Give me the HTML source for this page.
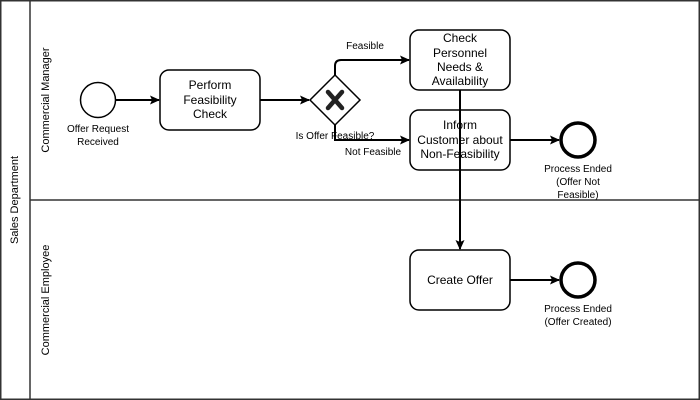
<!DOCTYPE html>
<html><head><meta charset="utf-8"><style>
html,body{margin:0;padding:0;background:#fff;}
svg{display:block;font-family:"Liberation Sans",Arial,sans-serif;}
</style></head><body>
<svg width="700" height="400" viewBox="0 0 700 400" xmlns="http://www.w3.org/2000/svg">
<defs>
<marker id="a" markerWidth="10" markerHeight="10" refX="9" refY="5" orient="auto" markerUnits="userSpaceOnUse">
<path d="M0,0.5 L10,5 L0,9.5 L2,5 Z" fill="#000"/>
</marker>
</defs>
<g fill="none" stroke="#333" stroke-width="1.5">
<rect x="0.75" y="0.75" width="698.5" height="398.5"/>
<line x1="30" y1="0" x2="30" y2="400"/>
<line x1="30" y1="200" x2="700" y2="200"/>
</g>
<g font-size="11" fill="#000" text-anchor="middle">
<text transform="translate(18,200) rotate(-90)">Sales Department</text>
<text transform="translate(49,100) rotate(-90)">Commercial Manager</text>
<text transform="translate(49,300) rotate(-90)">Commercial Employee</text>
</g>
<g fill="none" stroke="#000" stroke-width="2">
<line x1="116" y1="100" x2="159" y2="100" marker-end="url(#a)"/>
<line x1="260" y1="100" x2="309" y2="100" marker-end="url(#a)"/>
<path d="M335,75 V66 Q335,60 341,60 H409" marker-end="url(#a)"/>
<path d="M335,125 V140 H409" marker-end="url(#a)"/>
<line x1="510" y1="140" x2="559" y2="140" marker-end="url(#a)"/>
<line x1="460" y1="90" x2="460" y2="249" marker-end="url(#a)"/>
<line x1="510" y1="280" x2="559" y2="280" marker-end="url(#a)"/>
</g>
<g fill="#fff" stroke="#000" stroke-width="1.5">
<circle cx="98" cy="100" r="17.5"/>
<rect x="160" y="70" width="100" height="60" rx="9"/>
<rect x="410" y="30" width="100" height="60" rx="9"/>
<rect x="410" y="110" width="100" height="60" rx="9" fill="none"/>
<rect x="410" y="250" width="100" height="60" rx="9"/>
<path d="M335,75 L360,100 L335,125 L310,100 Z"/>
</g>
<line x1="460" y1="110" x2="460" y2="170" stroke="#000" stroke-width="2"/>
<g fill="#fff" stroke="#000" stroke-width="3.5">
<circle cx="578" cy="140" r="17"/>
<circle cx="578" cy="280" r="17"/>
</g>
<g stroke="#222" stroke-width="4.5" stroke-linecap="round">
<line x1="328" y1="92" x2="342" y2="108"/>
<line x1="342" y1="92" x2="328" y2="108"/>
</g>
<g font-size="12" fill="#000" text-anchor="middle">
<text x="210" y="89">Perform</text>
<text x="210" y="104">Feasibility</text>
<text x="210" y="118">Check</text>
<text x="460" y="42">Check</text>
<text x="460" y="57">Personnel</text>
<text x="460" y="71">Needs &amp;</text>
<text x="460" y="85">Availability</text>
<text x="460" y="129">Inform</text>
<text x="460" y="144">Customer about</text>
<text x="460" y="158">Non-Feasibility</text>
<text x="460" y="284">Create Offer</text>
</g>
<g font-size="10" fill="#000" text-anchor="middle">
<text x="98" y="132">Offer Request</text>
<text x="98" y="145">Received</text>
<text x="365" y="49">Feasible</text>
<text x="335" y="139">Is Offer Feasible?</text>
<text x="373" y="155">Not Feasible</text>
<text x="578" y="172">Process Ended</text>
<text x="578" y="185">(Offer Not</text>
<text x="578" y="198">Feasible)</text>
<text x="578" y="312">Process Ended</text>
<text x="578" y="325">(Offer Created)</text>
</g>
</svg>
</body></html>
